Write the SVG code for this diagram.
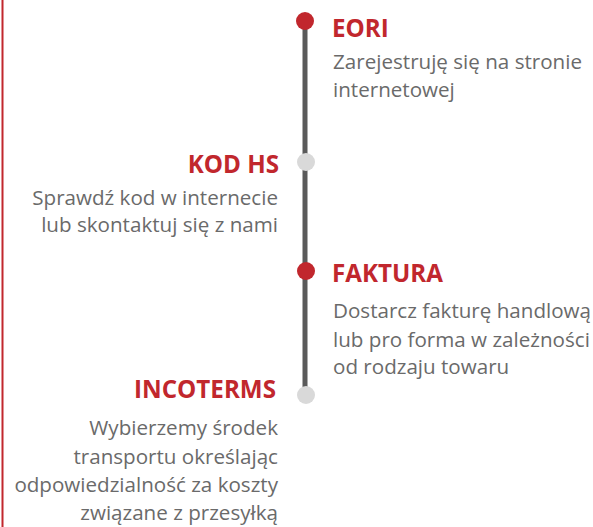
<svg xmlns="http://www.w3.org/2000/svg" width="593" height="527" viewBox="0 0 593 527">
<style>
.t{font-family:"Open Sans","Liberation Sans",sans-serif;font-weight:700;font-size:24.2px;fill:#c1272d}
.b{font-family:"Open Sans","Liberation Sans",sans-serif;font-size:20.6px;fill:#6a6a6a}
.r{text-anchor:end}
.red{fill:#c1272d}
.grey{fill:#d9d9d9}
</style>
<rect width="593" height="527" fill="#ffffff"/>
<g id="connectors">
<line x1="2.5" y1="0" x2="2.5" y2="527" stroke="#c1272d" stroke-width="2"/>
<line x1="305" y1="22" x2="305" y2="395" stroke="#5a5a5a" stroke-width="5"/>
</g>
<g id="eori">
<circle class="red" cx="305" cy="21" r="9"/>
<text class="t" x="332" y="36.5">EORI</text>
<text class="b" x="333" y="69">Zarejestruję się na stronie</text>
<text class="b" x="333" y="97">internetowej</text>
</g>
<g id="kodhs">
<circle class="grey" cx="306" cy="162" r="9"/>
<text class="t r" x="279" y="173">KOD HS</text>
<text class="b r" x="278" y="205">Sprawdź kod w internecie</text>
<text class="b r" x="278" y="232">lub skontaktuj się z nami</text>
</g>
<g id="faktura">
<circle class="red" cx="306" cy="271" r="9"/>
<text class="t" x="332" y="282">FAKTURA</text>
<text class="b" x="333" y="318">Dostarcz fakturę handlową</text>
<text class="b" x="333" y="347">lub pro forma w zależności</text>
<text class="b" x="333" y="374">od rodzaju towaru</text>
</g>
<g id="incoterms">
<circle class="grey" cx="306" cy="395" r="9"/>
<text class="t r" x="276" y="398">INCOTERMS</text>
<text class="b r" x="278" y="435">Wybierzemy środek</text>
<text class="b r" x="278" y="464">transportu określając</text>
<text class="b r" x="278" y="492">odpowiedzialność za koszty</text>
<text class="b r" x="278" y="520">związane z przesyłką</text>
</g>
</svg>
